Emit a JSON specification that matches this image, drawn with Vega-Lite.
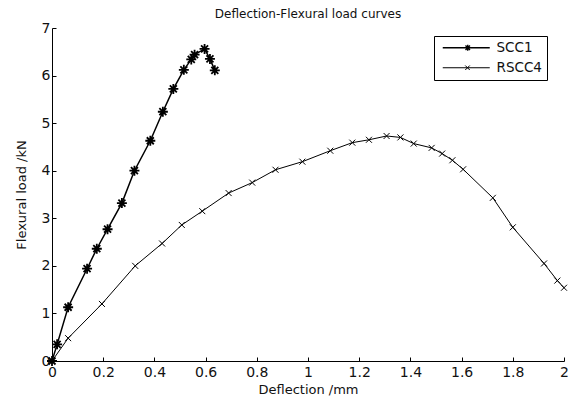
{
  "$schema": "https://vega.github.io/schema/vega-lite/v6.json",
  "width": 512,
  "height": 333,
  "autosize": {"type": "none"},
  "padding": {"left": 52, "top": 28, "right": 6, "bottom": 36},
  "background": "white",
  "title": {"text": "Deflection-Flexural load curves", "font": "DejaVu Sans", "fontSize": 12, "fontWeight": "normal", "color": "#111", "offset": 0, "anchor": "middle"},
  "config": {
    "view": {"stroke": null},
    "font": "DejaVu Sans"
  },
  "data": {"values": [
    {"s": "SCC1", "d": 0.0, "f": 0.0},
    {"s": "SCC1", "d": 0.02, "f": 0.35},
    {"s": "SCC1", "d": 0.063, "f": 1.13},
    {"s": "SCC1", "d": 0.137, "f": 1.94},
    {"s": "SCC1", "d": 0.175, "f": 2.36},
    {"s": "SCC1", "d": 0.217, "f": 2.77},
    {"s": "SCC1", "d": 0.273, "f": 3.32},
    {"s": "SCC1", "d": 0.322, "f": 4.0},
    {"s": "SCC1", "d": 0.384, "f": 4.63},
    {"s": "SCC1", "d": 0.433, "f": 5.24},
    {"s": "SCC1", "d": 0.474, "f": 5.72},
    {"s": "SCC1", "d": 0.515, "f": 6.12},
    {"s": "SCC1", "d": 0.544, "f": 6.34},
    {"s": "SCC1", "d": 0.557, "f": 6.44},
    {"s": "SCC1", "d": 0.596, "f": 6.56},
    {"s": "SCC1", "d": 0.617, "f": 6.35},
    {"s": "SCC1", "d": 0.636, "f": 6.11},
    {"s": "RSCC4", "d": 0.0, "f": 0.0},
    {"s": "RSCC4", "d": 0.063, "f": 0.48},
    {"s": "RSCC4", "d": 0.195, "f": 1.2},
    {"s": "RSCC4", "d": 0.325, "f": 2.0},
    {"s": "RSCC4", "d": 0.43, "f": 2.47},
    {"s": "RSCC4", "d": 0.507, "f": 2.86},
    {"s": "RSCC4", "d": 0.587, "f": 3.15},
    {"s": "RSCC4", "d": 0.69, "f": 3.53},
    {"s": "RSCC4", "d": 0.782, "f": 3.75},
    {"s": "RSCC4", "d": 0.873, "f": 4.02},
    {"s": "RSCC4", "d": 0.978, "f": 4.19},
    {"s": "RSCC4", "d": 1.087, "f": 4.42},
    {"s": "RSCC4", "d": 1.173, "f": 4.59},
    {"s": "RSCC4", "d": 1.238, "f": 4.65},
    {"s": "RSCC4", "d": 1.307, "f": 4.73},
    {"s": "RSCC4", "d": 1.361, "f": 4.7},
    {"s": "RSCC4", "d": 1.413, "f": 4.57},
    {"s": "RSCC4", "d": 1.483, "f": 4.48},
    {"s": "RSCC4", "d": 1.524, "f": 4.36},
    {"s": "RSCC4", "d": 1.564, "f": 4.22},
    {"s": "RSCC4", "d": 1.606, "f": 4.03},
    {"s": "RSCC4", "d": 1.722, "f": 3.43},
    {"s": "RSCC4", "d": 1.8, "f": 2.81},
    {"s": "RSCC4", "d": 1.922, "f": 2.05},
    {"s": "RSCC4", "d": 1.974, "f": 1.69},
    {"s": "RSCC4", "d": 2.0, "f": 1.54}
  ]},
  "encoding": {
    "x": {"field": "d", "type": "quantitative", "scale": {"domain": [0, 2], "nice": false, "zero": false},
      "axis": {"title": "Deflection /mm", "values": [0, 0.2, 0.4, 0.6, 0.8, 1, 1.2, 1.4, 1.6, 1.8, 2], "labelExpr": "'' + datum.value", "grid": false, "domainColor": "black", "tickColor": "black", "tickSize": -4, "labelPadding": 8, "labelFontSize": 14, "labelColor": "#111", "titleFontSize": 13, "titleFontWeight": "normal", "titleColor": "#111", "titlePadding": 4, "labelFlush": false}},
    "y": {"field": "f", "type": "quantitative", "scale": {"domain": [0, 7], "nice": false},
      "axis": {"title": "Flexural load /kN", "values": [0, 1, 2, 3, 4, 5, 6, 7], "grid": false, "domainColor": "black", "tickColor": "black", "tickSize": -4, "labelPadding": 6, "labelFontSize": 14, "labelColor": "#111", "titleFontSize": 13, "titleFontWeight": "normal", "titleColor": "#111", "titlePadding": 13, "labelFlush": false}}
  },
  "layer": [
    {
      "transform": [{"filter": "datum.s === 'SCC1'"}],
      "mark": {"type": "line", "color": "black", "strokeWidth": 1.5},
      "encoding": {
        "opacity": {"field": "s", "type": "nominal", "scale": {"domain": ["SCC1", "RSCC4"], "range": [1, 1]},
          "legend": {
            "title": null, "orient": "none", "legendX": 382, "legendY": 8,
            "strokeColor": "black", "fillColor": "white", "padding": 5,
            "labelFontSize": 13.5, "labelColor": "#111", "symbolSize": 100, "labelOffset": 44, "rowPadding": 5,
            "symbolStrokeColor": "black", "symbolFillColor": "transparent", "symbolType": "stroke",
            "encode": {"symbols": {"update": {
              "shape": {"signal": "datum.value === 'SCC1' ? 'M-0.6,0H8.8M4.4,-0.6V0.6M3.95,-0.45L4.85,0.45M3.95,0.45L4.85,-0.45M3.8,0H5' : 'M-0.6,0H8.8M3.9,-0.45L4.8,0.45M3.9,0.45L4.8,-0.45'"},
              "stroke": {"value": "black"},
              "strokeWidth": {"signal": "datum.value === 'SCC1' ? 1.4 : 1"},
              "opacity": {"value": 1}
            }}}
          }}
      }
    },
    {
      "transform": [{"filter": "datum.s === 'RSCC4'"}],
      "mark": {"type": "line", "color": "black", "strokeWidth": 1},
      "encoding": {
        "opacity": {"field": "s", "type": "nominal"}
      }
    },
    {
      "transform": [{"filter": "datum.s === 'SCC1'"}],
      "mark": {"type": "point", "filled": false, "stroke": "black", "size": 100, "opacity": 1, "strokeWidth": 1.8, "shape": "M-1,0H1M0,-1V1M-0.7,-0.7L0.7,0.7M-0.7,0.7L0.7,-0.7"},
      "encoding": {}
    },
    {
      "transform": [{"filter": "datum.s === 'RSCC4'"}],
      "mark": {"type": "point", "filled": false, "stroke": "black", "size": 100, "opacity": 1, "strokeWidth": 1, "shape": "M-0.6,-0.6L0.6,0.6M-0.6,0.6L0.6,-0.6"},
      "encoding": {}
    }
  ]
}
